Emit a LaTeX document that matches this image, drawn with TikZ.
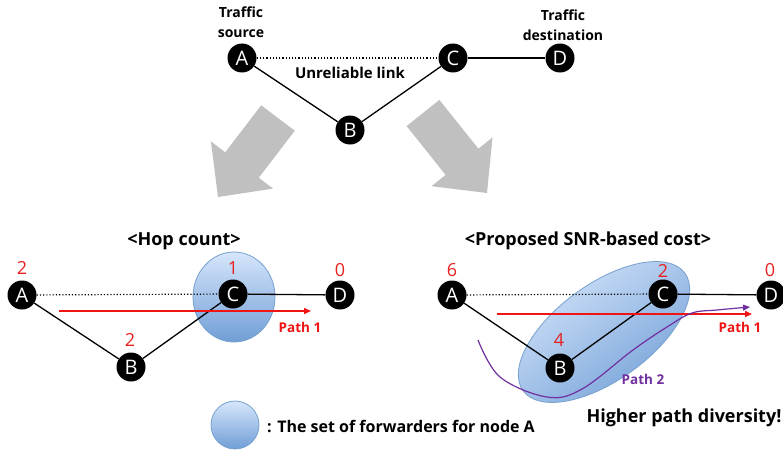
\documentclass[tikz,border=0pt]{standalone}
\usepackage{fontspec}
\setmainfont{Open Sans}
\usetikzlibrary{arrows.meta,shapes.geometric}
\definecolor{costred}{RGB}{232,32,32}
\definecolor{pathred}{RGB}{240,20,20}
\definecolor{pathpurple}{RGB}{112,48,160}
\definecolor{setlight}{RGB}{214,230,251}
\definecolor{setdark}{RGB}{112,158,214}
\definecolor{setedge}{RGB}{118,160,206}
\definecolor{bigarrow}{RGB}{192,192,192}
\begin{document}
\begin{tikzpicture}[x=1pt,y=-1pt,
  vertex/.style={circle,fill=black,minimum size=29pt,inner sep=0pt,text=white,
    font=\fontsize{20}{20}\selectfont},
  link/.style={line width=1.3pt},
  weak/.style={line width=1.2pt,dotted},
  lbl/.style={font=\bfseries\fontsize{14}{20}\selectfont,align=center,inner sep=0pt},
  title/.style={font=\bfseries\fontsize{18}{18}\selectfont,inner sep=0pt},
  cost/.style={text=costred,font=\fontsize{18}{18}\selectfont,inner sep=0pt},
  pathlbl/.style={font=\bfseries\fontsize{13.5}{13.5}\selectfont,inner sep=0pt},
  fwdset/.style={draw=setedge,line width=0.8pt,top color=setlight,bottom color=setdark},
  pathone/.style={draw=pathred,line width=1.5pt,-{Triangle[length=7pt,width=6pt]}},
  pathtwo/.style={draw=pathpurple,line width=1.2pt,-{Triangle[length=7pt,width=6pt]}},
]
\useasboundingbox (0,0) rectangle (783,452);

% ---------- top: example topology ----------
\node[vertex] (tA) at (242,58) {A};
\node[vertex] (tB) at (350,130) {B};
\node[vertex] (tC) at (453,58) {C};
\node[vertex] (tD) at (560,58) {D};
\draw[weak] (tA) -- (tC);
\draw[link] (tC) -- (tD);
\draw[link] (tA) -- (tB);
\draw[link] (tB) -- (tC);
\node[lbl] (src) at (241,22) {Traffic\\source};
\node[lbl] (dst) at (563,25) {Traffic\\destination};
\node[lbl,font=\bfseries\fontsize{15}{15}\selectfont] (unrel) at (350,73) {Unreliable link};

% ---------- big grey arrows ----------
\fill[bigarrow] (294.8,130.7) -- (258.8,177.7) -- (273.1,188.6) -- (218,197)
  -- (210.9,141.4) -- (225.2,152.3) -- (261.2,105.3) -- cycle;
\fill[bigarrow] (406.6,126.1) -- (445.6,174.9) -- (431.5,186.2) -- (487,193)
  -- (492.5,137.4) -- (478.4,148.7) -- (439.4,99.9) -- cycle;

% ---------- bottom left: hop count ----------
\node[title] (hoptitle) at (184,241) {<Hop count>};
\path[fwdset] (234,297) ellipse [x radius=41, y radius=45];
\node[vertex] (hA) at (22,295) {A};
\node[vertex] (hB) at (131,367) {B};
\node[vertex] (hC) at (233,294) {C};
\node[vertex] (hD) at (340,295) {D};
\draw[weak] (hA) -- (hC);
\draw[link] (hC) -- (hD);
\draw[link] (hA) -- (hB);
\draw[link] (hB) -- (hC);
\node[cost] (hcA) at (22,268) {2};
\node[cost] (hcB) at (130,340) {2};
\node[cost] (hcC) at (233,268) {1};
\node[cost] (hcD) at (340,270) {0};
\coordinate (hp1s) at (59,311);
\coordinate (hp1e) at (311,311);
\draw[pathone] (hp1s) -- (hp1e);
\node[pathlbl,text=pathred] (hp1) at (300,327) {Path 1};

% ---------- bottom right: SNR-based cost ----------
\node[title] (snrtitle) at (588,241) {<Proposed SNR-based cost>};
\path[fwdset,shading angle=36,rotate around={36:(604,332)}] (604,332) ellipse [x radius=100, y radius=48];
\node[vertex] (sA) at (452,295) {A};
\node[vertex] (sB) at (560,368) {B};
\node[vertex] (sC) at (663,294) {C};
\node[vertex] (sD) at (771,295) {D};
\draw[weak] (sA) -- (sC);
\draw[link] (sC) -- (sD);
\draw[link] (sA) -- (sB);
\draw[link] (sB) -- (sC);
\node[cost] (scA) at (452,270) {6};
\node[cost] (scB) at (559,340) {4};
\node[cost] (scC) at (663,271) {2};
\node[cost] (scD) at (770,270) {0};
\coordinate (sp1s) at (497,314);
\coordinate (sp1e) at (752,314);
\draw[pathone] (sp1s) -- (sp1e);
\node[pathlbl,text=pathred] (sp1) at (740,327) {Path 1};
\draw[pathtwo] plot[smooth,tension=0.6] coordinates
  {(478,340) (500,377) (547,397) (582,389) (633,350) (667,327) (692,313) (717,310) (750,307)};
\node[pathlbl,text=pathpurple] (sp2) at (643,379) {Path 2};
\node[font=\bfseries\fontsize{18}{18}\selectfont,inner sep=0pt] (div) at (684,418) {Higher path diversity!};

% ---------- legend ----------
\path[fwdset] (235,425) circle [radius=24];
\node[lbl,anchor=west,font=\bfseries\fontsize{16}{16}\selectfont] (legend) at (267,426) {: The set of forwarders for node A};
\end{tikzpicture}
\end{document}
